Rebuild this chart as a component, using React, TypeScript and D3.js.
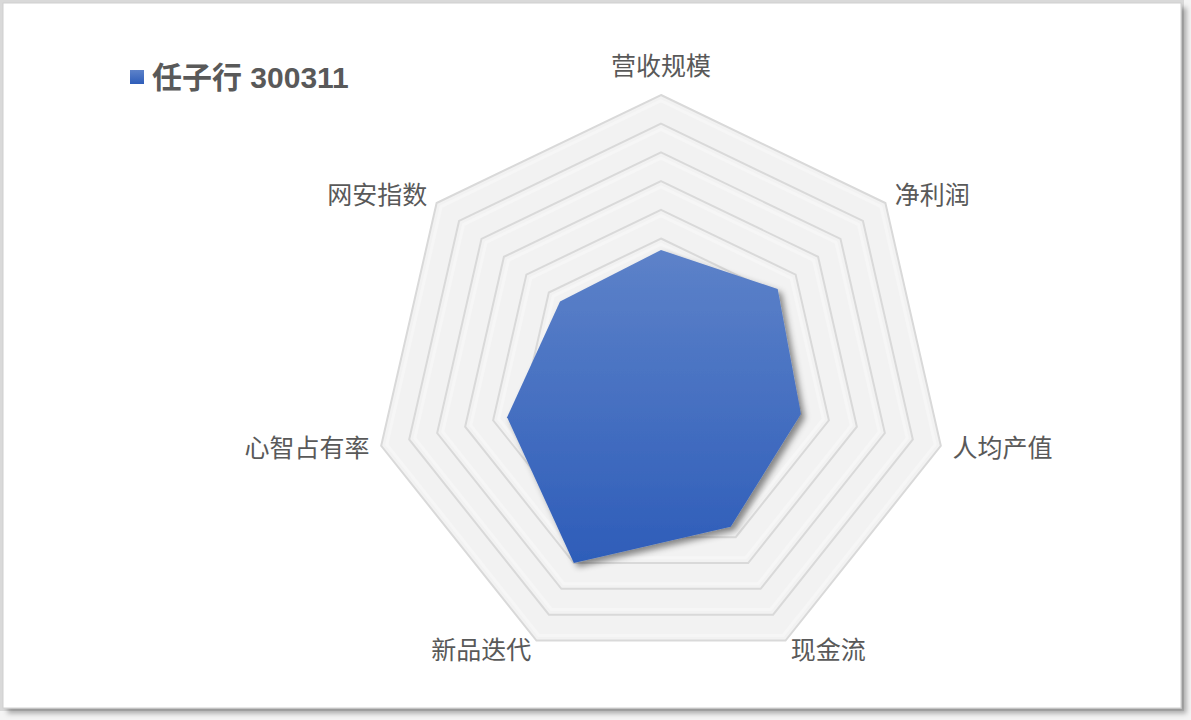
import { useMemo } from "react";
import * as d3 from "d3";

// chart data
const axes = ["营收规模", "净利润", "人均产值", "现金流", "新品迭代", "心智占有率", "网安指数"];
const values = [46, 52, 50, 56, 70, 55, 45];
const seriesName = "任子行 300311";
const gridLevels = [100, 90, 80, 70, 60, 50, 40, 30, 20, 10];

const W = 1191;
const H = 720;
const cx = 661;
const cy = 382;
const R = 287;

const App = () => {
  const rScale = useMemo(() => d3.scaleLinear().domain([0, 100]).range([0, R]), []);
  const angle = (i: number) => (i * 2 * Math.PI) / axes.length;

  const ringPath = (level: number) =>
    d3
      .lineRadial<number>()
      .angle((_, i) => angle(i))
      .radius(() => rScale(level))
      .curve(d3.curveLinearClosed)(axes.map(() => level)) ?? "";

  const dataPath =
    d3
      .lineRadial<number>()
      .angle((_, i) => angle(i))
      .radius((d) => rScale(d))
      .curve(d3.curveLinearClosed)(values) ?? "";

  // label positions just outside outer ring
  const labels = axes.map((name, i) => {
    const a = angle(i) - Math.PI / 2;
    const ux = Math.cos(a);
    const uy = Math.sin(a);
    const off = Math.abs(uy) > 0.95 ? 31 : 12;
    const x = cx + (R + off) * ux;
    const y = cy + (R + off) * uy - (Math.abs(uy) > 0.95 ? 0 : 3);
    const anchor = ux > 0.1 ? "start" : ux < -0.1 ? "end" : "middle";
    return { name, x, y, anchor };
  });

  return (
    <svg
      width={W}
      height={H}
      style={{ position: "absolute", left: 0, top: 0, background: "#ffffff" }}
    >
      <defs>
        <linearGradient id="dataFill" x1="0" y1="0" x2="0" y2="1">
          <stop offset="0%" stopColor="#5d82c9" />
          <stop offset="100%" stopColor="#2e5db9" />
        </linearGradient>
        <linearGradient id="swatchFill" x1="0" y1="0" x2="0" y2="1">
          <stop offset="0%" stopColor="#5d82c9" />
          <stop offset="100%" stopColor="#2e5db9" />
        </linearGradient>
        <filter id="shadow" x="-20%" y="-20%" width="140%" height="140%">
          <feDropShadow dx="4" dy="4" stdDeviation="3" floodColor="#000" floodOpacity="0.45" />
        </filter>
        <filter id="frameShadow" x="-5%" y="-5%" width="110%" height="110%">
          <feDropShadow dx="5" dy="5" stdDeviation="2.5" floodColor="#000" floodOpacity="0.3" />
        </filter>
      </defs>

      {/* frame */}
      <rect x={0} y={0} width={W} height={H} fill="#f4f4f4" />
      <rect x={0} y={0} width={1184} height={711} fill="#d9d9d9" />
      <rect
        x={3}
        y={3}
        width={1178}
        height={705}
        fill="#ffffff"
        stroke="#d0d0d0"
        strokeWidth={1}
        filter="url(#frameShadow)"
      />

      {/* grid rings */}
      <g transform={`translate(${cx},${cy})`}>
        {gridLevels.map((lv) => (
          <path key={lv} d={ringPath(lv)} fill="#f2f2f2" stroke="#d9d9d9" strokeWidth={2} />
        ))}
        {gridLevels.map((lv) => (
          <path
            key={`in${lv}`}
            d={ringPath(lv - 2)}
            fill="none"
            stroke="#f6f6f6"
            strokeWidth={3}
          />
        ))}
        <path d={dataPath} fill="url(#dataFill)" filter="url(#shadow)" />
      </g>

      {/* axis labels */}
      {labels.map((l) => (
        <text
          key={l.name}
          x={l.x}
          y={l.y}
          textAnchor={l.anchor}
          dominantBaseline="central"
          fontFamily="'Noto Sans CJK SC', sans-serif"
          fontSize={25}
          fill="#595959"
        >
          {l.name}
        </text>
      ))}

      {/* legend */}
      <rect x={130} y={70} width={14} height={14} fill="url(#swatchFill)" />
      <text
        x={152}
        y={77}
        dominantBaseline="central"
        fontFamily="'Liberation Sans', 'Noto Sans CJK SC', sans-serif"
        fontWeight="bold"
        fontSize={30}
        fill="#595959"
      >
        {seriesName}
      </text>
    </svg>
  );
};

export default App;
